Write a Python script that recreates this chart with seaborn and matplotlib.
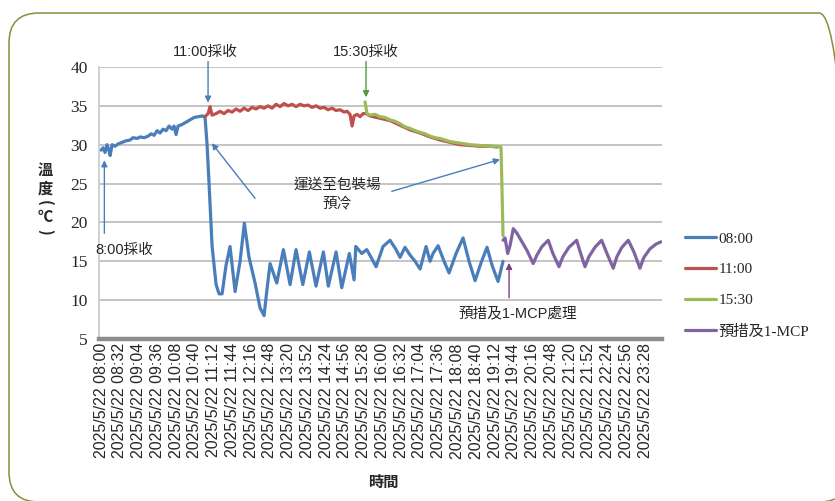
import matplotlib
matplotlib.use("Agg")
import matplotlib.pyplot as plt
import seaborn as sns
import pandas as pd
from matplotlib.patches import FancyBboxPatch

# x values are minutes after 2025/5/22 08:00, y values are temperature (deg C)
blue_min = [0, 3.4, 6.8, 10.2, 13.6, 15.4, 18.8, 23.9, 29.0, 35.8, 42.6, 49.5, 54.6, 61.4,
            66.5, 73.3, 80.2, 85.3, 90.4, 95.5, 100.6, 105.8, 110.9, 116.0, 121.1, 124.5,
            127.9, 131.3, 138.2, 145.0, 151.8, 158.6, 165.5, 174.0, 177.4, 180.8, 184.2,
            189.3, 196.2, 201.3, 206.4, 213.2, 220.0, 228.6, 237.1, 244.4, 252.4, 262.7,
            271.2, 278.0, 283.2, 288.3, 299.7, 311.0, 322.4, 332.6, 344.1, 355.3, 366.7,
            379.2, 387.7, 400.9, 410.6, 423.5, 431.6, 434.5, 444.7, 453.2, 460.6, 469.1,
            481.0, 493.0, 503.2, 510.0, 518.5, 527.1, 535.6, 544.2, 554.4, 561.2, 566.3,
            574.9, 585.1, 593.6, 605.6, 617.5, 627.7, 638.0, 648.2, 658.4, 666.9, 677.2, 685.7]
blue_temp = [29.3, 29.6, 29.0, 30.0, 29.2, 28.6, 30.0, 29.8, 30.1, 30.3, 30.5, 30.6, 30.9, 30.8,
             31.0, 30.9, 31.1, 31.4, 31.2, 31.8, 31.5, 32.0, 31.8, 32.4, 32.0, 32.4,
             31.3, 32.4, 32.6, 32.9, 33.2, 33.5, 33.6, 33.7, 33.5, 30.0, 25.0,
             17.0, 12.0, 10.8, 10.8, 14.5, 16.9, 11.1, 15.0, 19.9, 15.5, 12.2,
             9.0, 8.0, 11.5, 14.7, 12.2, 16.5, 12.0, 16.5, 12.0, 16.2, 11.8,
             16.2, 11.8, 16.2, 11.6, 16.0, 12.6, 16.9, 16.0, 16.5, 15.5, 14.3,
             16.9, 17.7, 16.5, 15.5, 16.8, 15.8, 15.0, 14.0, 16.9, 15.0, 16.0,
             17.0, 15.0, 13.5, 16.0, 18.0, 15.0, 12.5, 14.8, 16.8, 14.5, 12.4, 15.0]

red_min = [177.4, 182.5, 185.9, 189.3, 196.2, 203.0, 209.8, 216.6, 223.5, 230.3, 237.1,
           243.9, 250.8, 257.6, 264.4, 271.2, 278.0, 284.9, 291.7, 298.5, 305.3, 312.2,
           319.0, 325.8, 332.6, 339.5, 346.3, 353.1, 359.9, 366.7, 373.6, 380.4, 387.2,
           394.0, 400.9, 407.7, 414.5, 419.6, 424.7, 428.2, 431.6, 436.7, 441.8, 447.0,
           452.0, 458.8, 475.9, 493.0, 510.0, 527.1, 544.2, 561.2, 578.3, 595.3, 612.4,
           629.4, 646.5, 663.6, 675.5]
red_temp = [33.6, 34.0, 34.9, 33.8, 34.0, 34.3, 34.0, 34.4, 34.2, 34.6, 34.3,
            34.7, 34.4, 34.8, 34.6, 34.9, 34.7, 35.0, 34.7, 35.2, 34.9, 35.3,
            35.0, 35.2, 34.9, 35.2, 35.0, 35.1, 34.8, 35.0, 34.7, 34.8, 34.5,
            34.7, 34.4, 34.5, 34.2, 34.3, 33.9, 32.4, 33.7, 33.9, 33.6, 34.0,
            34.0, 33.7, 33.4, 33.1, 32.5, 31.9, 31.5, 31.0, 30.6, 30.3, 30.0,
            29.9, 29.8, 29.8, 29.7]

green_min = [450.3, 453.7, 458.8, 467.3, 475.9, 484.4, 493.0, 501.5, 510.0, 518.6, 527.1,
             535.6, 544.2, 552.7, 561.2, 569.7, 578.3, 586.8, 595.3, 603.9, 612.4, 620.9,
             629.4, 646.5, 663.6, 682.3, 685.7]
green_temp = [35.5, 34.0, 33.8, 33.9, 33.6, 33.5, 33.2, 33.0, 32.7, 32.3, 32.1,
              31.8, 31.6, 31.4, 31.1, 30.9, 30.8, 30.6, 30.4, 30.3, 30.2, 30.1,
              30.0, 29.9, 29.8, 29.7, 18.3]

purple_min = [685.7, 689.1, 693.7, 697.6, 703.2, 709.5, 718.0, 726.5, 737.2, 743.6, 752.1,
              762.8, 770.8, 781.1, 787.9, 798.1, 811.3, 816.9, 825.5, 832.3, 842.5, 853.9,
              863.0, 873.7, 880.0, 888.5, 899.3, 909.0, 919.2, 926.0, 936.3, 946.5, 955.0]
purple_temp = [17.7, 18.0, 16.0, 17.0, 19.2, 18.6, 17.5, 16.4, 14.7, 15.8, 16.9,
               17.7, 16.0, 14.3, 15.6, 16.8, 17.7, 16.3, 14.3, 15.6, 16.8, 17.7,
               16.0, 14.1, 15.6, 16.8, 17.7, 16.2, 14.1, 15.5, 16.6, 17.2, 17.5]

series_names = ['08:00', '11:00', '15:30', '預措及1-MCP']
series_colors = ['#4a7ebb', '#c0504d', '#9bbb59', '#8064a2']

tick_times = ['08:00', '08:32', '09:04', '09:36', '10:08', '10:40', '11:12', '11:44',
              '12:16', '12:48', '13:20', '13:52', '14:24', '14:56', '15:28', '16:00',
              '16:32', '17:04', '17:36', '18:08', '18:40', '19:12', '19:44', '20:16',
              '20:48', '21:20', '21:52', '22:24', '22:56', '23:28']
date_str = '2025/5/22'

sans = ['Liberation Sans', 'Noto Sans CJK TC']
serif = ['Liberation Serif', 'Noto Sans CJK TC']
cjk = ['Noto Sans CJK TC', 'DejaVu Sans']

sns.set_style("white")
plt.rcParams['font.family'] = sans

frames = []
for name, m, t in zip(series_names, [blue_min, red_min, green_min, purple_min],
                      [blue_temp, red_temp, green_temp, purple_temp]):
    frames.append(pd.DataFrame({'minute': m, 'temp': t, 'series': name}))
df = pd.concat(frames, ignore_index=True)

fig = plt.figure(figsize=(8.35, 5.01), dpi=100)
ax = fig.add_axes([0.1186, 0.3234, 0.6743, 0.5429])

sns.lineplot(data=df, x='minute', y='temp', hue='series', hue_order=series_names,
             palette=series_colors, estimator=None, sort=False, lw=2.3, legend=False, ax=ax)

ax.set_xlim(-3.5, 957)
ax.set_ylim(5, 40)
ax.set_yticks(range(5, 41, 5))
ax.yaxis.grid(True, color='#b4b4b4', lw=1.1)
ax.set_axisbelow(True)

tick_pos = [(int(s[:2]) - 8) * 60 + int(s[3:]) for s in tick_times]
ax.set_xticks(tick_pos)
ax.set_xticklabels([date_str + ' ' + s for s in tick_times], rotation=90,
                   fontsize=11.5, family=sans)
for lab in ax.get_yticklabels():
    lab.set_family(serif)
    lab.set_fontsize(12.5)
ax.tick_params(axis='x', length=0, pad=3)
ax.tick_params(axis='y', length=3, color='#b4b4b4', pad=5)
ax.set_xlabel('')
ax.set_ylabel('')

for side in ['top', 'right']:
    ax.spines[side].set_visible(False)
ax.spines['left'].set_color('#c8c8c8')
ax.spines['left'].set_linewidth(1.2)
ax.spines['bottom'].set_color('#8c8c8c')
ax.spines['bottom'].set_linewidth(3.2)

# annotations
arrow_kw = dict(arrowstyle='-|>', lw=1.0, mutation_scale=9, shrinkA=0, shrinkB=0)
ax.annotate('', xy=(5.6, 28.0), xytext=(5.6, 18.6),
            arrowprops=dict(color='#4a7ebb', **arrow_kw))
ax.text(-10.2, 16.5, '8:00採收', ha='left', va='center', fontsize=10.5, family=sans)

ax.annotate('', xy=(182.5, 35.4), xytext=(182.5, 40.7), annotation_clip=False,
            arrowprops=dict(color='#4a7ebb', **arrow_kw))
ax.text(177, 41.9, '11:00採收', ha='center', va='center', fontsize=10.5, family=sans)

ax.annotate('', xy=(452, 36.1), xytext=(452, 40.7), annotation_clip=False,
            arrowprops=dict(color='#4e9a3c', **arrow_kw))
ax.text(452, 41.9, '15:30採收', ha='center', va='center', fontsize=10.5, family=sans)

ax.text(403, 23.6, '運送至包裝場\n預冷', ha='center', va='center', fontsize=10.5,
        family=sans, linespacing=1.45)
ax.annotate('', xy=(188.8, 30.2), xytext=(262.7, 23.1),
            arrowprops=dict(color='#4a7ebb', **arrow_kw))
ax.annotate('', xy=(680.6, 28.1), xytext=(495.9, 24.0),
            arrowprops=dict(color='#4a7ebb', **arrow_kw))

ax.annotate('', xy=(696, 14.8), xytext=(696, 10.3),
            arrowprops=dict(color='#7b3f8c', **arrow_kw))
ax.text(711, 8.35, '預措及1-MCP處理', ha='center', va='center', fontsize=10.5, family=sans)

# axis titles
fig.text(383 / 835, 1 - 482 / 501, '時間', ha='center', va='center', fontsize=11,
         fontweight='bold', family=cjk)
for ch, ypx, rot in zip(['溫', '度', '(', '℃', ')'], [170, 189, 203, 217, 232],
                        [0, 0, -90, 0, -90]):
    fig.text(45 / 835, 1 - ypx / 501, ch, ha='center', va='center', fontsize=11,
             fontweight='bold', family=cjk, rotation=rot)

handles = ax.get_lines()[:4]
ax.legend(handles, series_names, loc='upper left', bbox_to_anchor=(0.8204, 0.537),
          bbox_transform=fig.transFigure, frameon=False, handlelength=2.0,
          handletextpad=0.2, labelspacing=1.12, borderpad=0, borderaxespad=0,
          prop={'family': serif, 'size': 11})

frame = FancyBboxPatch((0.09, -0.01), 8.40, 4.89, boxstyle='round,pad=0,rounding_size=0.3',
                       transform=fig.dpi_scale_trans, fill=False, edgecolor='#8c8c3c',
                       lw=1.1, clip_on=False)
fig.patches.append(frame)

fig.savefig('out.png', dpi=100)
